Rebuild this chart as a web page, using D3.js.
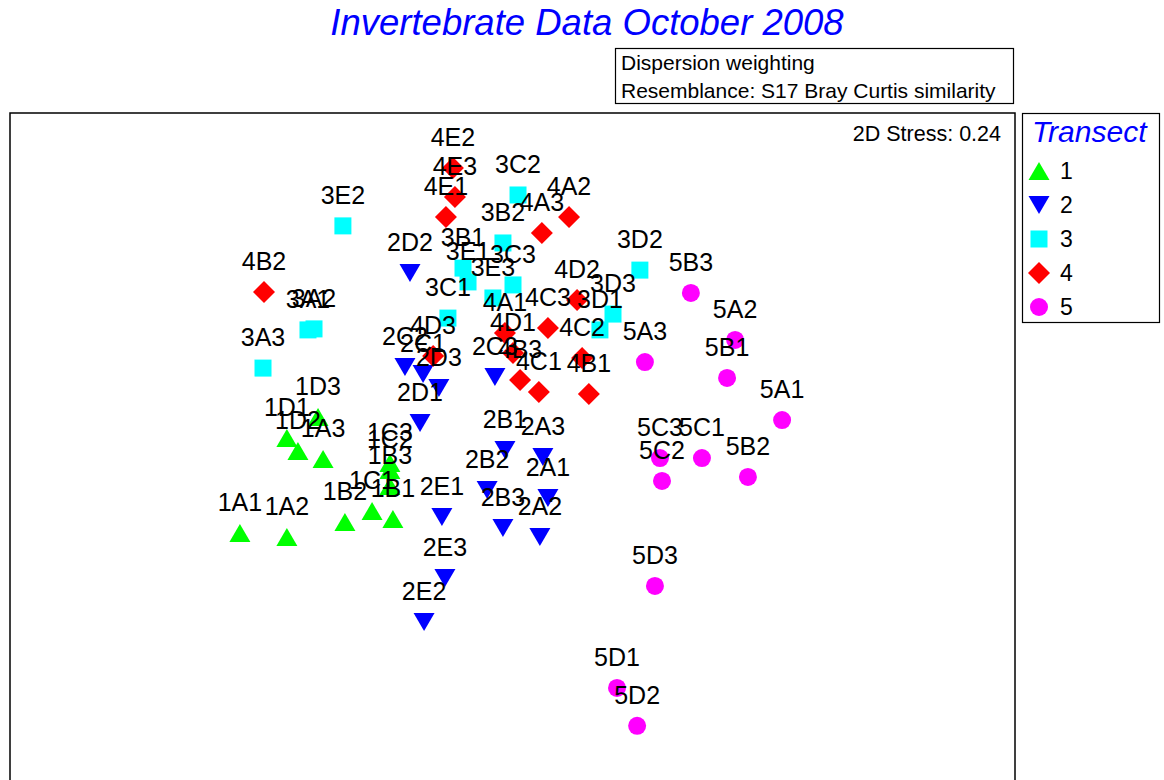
<!DOCTYPE html>
<html>
<head>
<meta charset="utf-8">
<script src="https://cdn.jsdelivr.net/npm/d3@7"></script>
<style>
  body { margin: 0; background: #fff; }
  text { font-family: "Liberation Sans", Arial, sans-serif; }
</style>
</head>
<body>
<div id="canvas"></div>
<script>
// transect groups and their colours
const transects = ["1", "2", "3", "4", "5"];
const transectColors = ["#00ff00", "#0000ff", "#00ffff", "#ff0000", "#ff00ff"];

// sample labels with their nMDS coordinates
const samples1 = ["1A1", "1A2", "1A3", "1B1", "1B2", "1B3", "1C1", "1C2", "1C3", "1D1", "1D2", "1D3"];
const mds1x = [-1.085, -0.898, -0.754, -0.476, -0.667, -0.488, -0.559, -0.488, -0.488, -0.898, -0.854, -0.774];
const mds1y = [-0.330, -0.346, -0.036, -0.275, -0.287, -0.143, -0.243, -0.080, -0.052, 0.048, -0.004, 0.131];

const samples2 = ["2A1", "2A2", "2A3", "2B1", "2B2", "2B3", "2C1", "2C2", "2C3", "2D1", "2D2", "2D3", "2E1", "2E2", "2E3"];
const mds2x = [0.141, 0.109, 0.121, -0.030, -0.101, -0.038, -0.356, -0.428, -0.070, -0.368, -0.408, -0.293, -0.281, -0.352, -0.269];
const mds2y = [-0.191, -0.346, -0.028, 0.000, -0.159, -0.310, 0.302, 0.330, 0.291, 0.107, 0.704, 0.247, -0.267, -0.685, -0.509];

const samples3 = ["3A1", "3A2", "3A3", "3B1", "3B2", "3C1", "3C2", "3C3", "3D1", "3D2", "3D3", "3E1", "3E2", "3E3"];
const mds3x = [-0.814, -0.790, -0.993, -0.197, -0.038, -0.257, 0.022, 0.002, 0.348, 0.507, 0.400, -0.177, -0.675, -0.078];
const mds3y = [0.478, 0.482, 0.326, 0.724, 0.824, 0.525, 1.015, 0.657, 0.478, 0.716, 0.541, 0.669, 0.892, 0.605];

const samples4 = ["4A1", "4A2", "4A3", "4B1", "4B2", "4B3", "4C1", "4C2", "4C3", "4D1", "4D2", "4D3", "4E1", "4E2", "4E3"];
const mds4x = [-0.030, 0.225, 0.117, 0.304, -0.989, 0.030, 0.105, 0.277, 0.141, 0.002, 0.257, -0.316, -0.265, -0.237, -0.229];
const mds4y = [0.466, 0.927, 0.864, 0.223, 0.629, 0.279, 0.231, 0.366, 0.486, 0.386, 0.597, 0.374, 0.927, 1.122, 1.007];

const samples5 = ["5A1", "5A2", "5A3", "5B1", "5B2", "5B3", "5C1", "5C2", "5C3", "5D1", "5D2", "5D3"];
const mds5x = [1.073, 0.886, 0.527, 0.854, 0.937, 0.710, 0.754, 0.595, 0.587, 0.416, 0.496, 0.567];
const mds5y = [0.119, 0.438, 0.350, 0.287, -0.107, 0.625, -0.032, -0.123, -0.032, -0.947, -1.098, -0.541];

const noteLines = ["Dispersion weighting", "Resemblance: S17 Bray Curtis similarity"];
const stressLabel = "2D Stress: 0.24";

const width = 1164, height = 780;
const frame = { left: 10, top: 113, right: 1015, bottom: 830 };

const svg = d3.select("#canvas").append("svg")
    .attr("width", width)
    .attr("height", height);

// same units on both axes, as nMDS plots are
const x = d3.scaleLinear().domain([-2, 2]).range([frame.left, frame.right]);
const y = d3.scaleLinear().domain([-1.5, 1.5]).range([450 + 376.875, 450 - 376.875]);

// marker shapes, centred on their bounding box
const shapes = [
    "M0,-9L10.5,9L-10.5,9Z",
    "M0,9L10.5,-9L-10.5,-9Z",
    "M-8.5,-8.5H8.5V8.5H-8.5Z",
    "M0,-11L11,0L0,11L-11,0Z",
    d3.symbol().type(d3.symbolCircle).size(Math.PI * 81)()
];

const groups = [
    [samples1, mds1x, mds1y],
    [samples2, mds2x, mds2y],
    [samples3, mds3x, mds3y],
    [samples4, mds4x, mds4y],
    [samples5, mds5x, mds5y]
];

const points = [];
groups.forEach((g, gi) => {
    g[0].forEach((name, i) => {
        points.push({ name: name, t: gi, mx: g[1][i], my: g[2][i] });
    });
});

// title
svg.append("text")
    .attr("x", 587)
    .attr("y", 35)
    .attr("text-anchor", "middle")
    .style("font-size", "36.5px")
    .style("font-style", "italic")
    .attr("fill", "#0000ff")
    .text("Invertebrate Data October 2008");

// resemblance note
svg.append("rect")
    .attr("x", 615.5).attr("y", 48.5)
    .attr("width", 398).attr("height", 55)
    .attr("fill", "none").attr("stroke", "#000").attr("stroke-width", 1.2);

svg.selectAll(".note")
    .data(noteLines)
    .enter()
    .append("text")
    .attr("class", "note")
    .attr("x", 621)
    .attr("y", (d, i) => 70 + i * 28)
    .style("font-size", "21px")
    .text(d => d);

// plot frame
svg.append("rect")
    .attr("x", frame.left).attr("y", frame.top)
    .attr("width", frame.right - frame.left).attr("height", frame.bottom - frame.top)
    .attr("fill", "none").attr("stroke", "#000").attr("stroke-width", 1.5);

svg.append("text")
    .attr("x", 1001)
    .attr("y", 141)
    .attr("text-anchor", "end")
    .style("font-size", "21.5px")
    .text(stressLabel);

// markers
const plot = svg.append("g");

plot.selectAll("path")
    .data(points)
    .enter()
    .append("path")
    .attr("d", d => shapes[d.t])
    .attr("transform", d => `translate(${x(d.mx)},${y(d.my)})`)
    .attr("fill", d => transectColors[d.t]);

// sample labels sit above their marker
plot.selectAll("text")
    .data(points)
    .enter()
    .append("text")
    .attr("x", d => x(d.mx))
    .attr("y", d => y(d.my) - 22)
    .attr("text-anchor", "middle")
    .style("font-size", "25px")
    .text(d => d.name);

// legend
const legend = svg.append("g");

legend.append("rect")
    .attr("x", 1022.5).attr("y", 113.5)
    .attr("width", 137).attr("height", 209)
    .attr("fill", "none").attr("stroke", "#000").attr("stroke-width", 1.2);

legend.append("text")
    .attr("x", 1032)
    .attr("y", 142)
    .style("font-size", "30px")
    .style("font-style", "italic")
    .attr("fill", "#0000ff")
    .text("Transect");

legend.selectAll("path")
    .data(transects)
    .enter()
    .append("path")
    .attr("d", (d, i) => shapes[i])
    .attr("transform", (d, i) => `translate(1039,${171 + i * 34})`)
    .attr("fill", (d, i) => transectColors[i]);

legend.selectAll(".item")
    .data(transects)
    .enter()
    .append("text")
    .attr("class", "item")
    .attr("x", 1060)
    .attr("y", (d, i) => 179 + i * 34)
    .style("font-size", "23px")
    .text(d => d);
</script>
</body>
</html>
